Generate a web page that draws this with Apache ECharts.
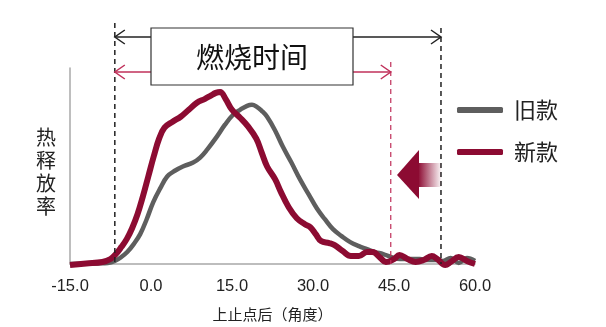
<!DOCTYPE html>
<html>
<head>
<meta charset="utf-8">
<script src="https://cdn.jsdelivr.net/npm/echarts@6/dist/echarts.min.js"></script>
<style>
html,body{margin:0;padding:0;background:#fff;}
#c{width:606px;height:327px;}
</style>
</head>
<body>
<div id="c"></div>
<script>
// ---- data ----
var seriesNames = ['旧款', '新款'];
var oldX = [-15, -12, -10, -8, -6.7, -5.5, -4.4, -3.2, -2, -0.8, 0.4, 1.7, 3, 4.5, 5.9, 7.8, 9.1, 10.4, 12.2, 13.7, 15.2, 16.5, 17.8, 18.7, 19.6, 20.5, 21.5, 23, 24.4, 26, 27.6, 29.2, 30.7, 32.2, 33.7, 35.3, 36.9, 38.5, 40, 41.5, 43, 44.5, 46.1, 48, 49.8, 51.3, 52.8, 54, 55.5, 57, 58.5, 60];
var oldY = [0, 0.3, 0.6, 1, 3, 7, 12, 20, 30, 45, 62, 76, 88, 94, 98, 102, 107, 115, 128, 140, 150, 155, 159, 160, 158, 154, 148, 134, 118, 102, 85, 70, 56, 45, 35, 28, 22, 18, 15, 12, 10, 7, 5, 5, 5, 4, 4, 3, 6, 1, 6, 3];
var newX = [-15, -12, -9, -7.5, -6.5, -5.5, -4.5, -3.5, -2.5, -1.5, -0.5, 0.5, 1.5, 2.5, 4, 5.5, 7, 8.5, 10, 11, 12, 12.8, 13.8, 15, 16.5, 18, 19.5, 20.5, 21.5, 23, 24, 25.5, 27, 28.5, 29.5, 30.5, 31.5, 33, 34, 35.5, 37, 38.5, 40, 41, 42.5, 43.5, 45, 46, 47.5, 49, 50.5, 52, 53, 54.5, 55.5, 57, 58.5, 60];
var newY = [-1, 0.5, 2, 5, 10, 17, 25, 36, 50, 68, 88, 108, 126, 137, 143, 148, 155, 162, 166, 169, 172, 173, 166, 155, 147, 138, 126, 112, 98, 85, 73, 57, 46, 40, 37, 30, 23, 21, 19, 13, 8, 8, 12, 12, 6, 2, 5, 9, 5, 2, 4, 8, 5, -1, 2, 7, 3, 0];
var xTicks = [-15, 0, 15, 30, 45, 60];
// annotation positions (degrees after TDC)
var burnStart = -6.7, burnEndOld = 53.7, burnEndNew = 44.4;

var RED = '#8c0b32', GRAY = '#5e5e5e';
function pairs(xs, ys){ return xs.map(function(x,i){ return [x, ys[i]]; }); }

var chart = echarts.init(document.getElementById('c'), null, {renderer:'canvas'});
var FONT = '"Noto Sans CJK SC", "Liberation Sans", sans-serif';
chart.setOption({
  animation:false,
  backgroundColor:'#fff',
  grid:{left:70, right:131, top:68, bottom:62},
  legend:{
    orient:'vertical', left:452, top:94, itemWidth:46, itemHeight:6, itemGap:20,
    icon:'roundRect',
    textStyle:{fontSize:22, color:'#222', fontFamily:FONT, padding:[0,0,0,6]},
    data: seriesNames
  },
  xAxis:{
    type:'value', min:xTicks[0], max:xTicks[xTicks.length-1], interval:15,
    axisLine:{onZero:false, lineStyle:{color:'#a8a8a8', width:1.5}},
    axisTick:{show:false}, splitLine:{show:false},
    axisLabel:{fontSize:16.5, color:'#222', fontFamily:'"Liberation Sans", Arial, sans-serif', margin:14,
      formatter:function(v){ return v.toFixed(1); }},
    name:'上止点后（角度）', nameLocation:'middle', nameGap:43,
    nameTextStyle:{fontSize:15, color:'#222', fontFamily:FONT}
  },
  yAxis:{
    type:'value', min:0, max:197,
    axisLine:{show:true, onZero:false, lineStyle:{color:'#a8a8a8', width:1.5}},
    axisTick:{show:false}, axisLabel:{show:false}, splitLine:{show:false}
  },
  series:[
    {name:seriesNames[0], type:'line', data:pairs(oldX, oldY), smooth:0.4, showSymbol:false, clip:false,
     lineStyle:{color:GRAY, width:4.5}, itemStyle:{color:GRAY}, z:2},
    {name:seriesNames[1], type:'line', data:pairs(newX, newY), smooth:0.4, showSymbol:false, clip:false,
     lineStyle:{color:RED, width:6}, itemStyle:{color:RED}, z:3}
  ]
});

function px(v){ return chart.convertToPixel({xAxisIndex:0}, v); }
var xs = px(burnStart), xeOld = px(burnEndOld), xeNew = px(burnEndNew);
var base = chart.convertToPixel({yAxisIndex:0}, 0);
var yBlack = 37, yRed = 72;
function arrowHead(x, y, dir, color){
  return {type:'polyline', shape:{points:[[x - dir*10, y-7],[x, y],[x - dir*10, y+7]]},
    style:{stroke:color, lineWidth:1.5, fill:null}, z:10};
}
chart.setOption({graphic:[
  {type:'line', shape:{x1:xs, y1:23, x2:xs, y2:base}, style:{stroke:'#222', lineWidth:1.5, lineDash:[5,4]}, z:5},
  {type:'line', shape:{x1:xeOld, y1:28, x2:xeOld, y2:base}, style:{stroke:'#222', lineWidth:1.5, lineDash:[5,4]}, z:5},
  {type:'line', shape:{x1:xeNew, y1:62, x2:xeNew, y2:base}, style:{stroke:'#c0305a', lineWidth:1.2, lineDash:[5,4]}, z:5},
  {type:'line', shape:{x1:xs, y1:yBlack, x2:xeOld, y2:yBlack}, style:{stroke:'#222', lineWidth:1.3}, z:6},
  arrowHead(xs, yBlack, -1, '#222'), arrowHead(xeOld, yBlack, 1, '#222'),
  {type:'line', shape:{x1:xs, y1:yRed, x2:xeNew, y2:yRed}, style:{stroke:'#c0305a', lineWidth:1.3}, z:6},
  arrowHead(xs, yRed, -1, '#c0305a'), arrowHead(xeNew, yRed, 1, '#c0305a'),
  {type:'rect', shape:{x:151, y:28, width:202, height:57}, style:{fill:'#fff', stroke:'#333', lineWidth:1.2}, z:20},
  {type:'text', x:252, y:57, style:{text:'燃烧时间', fontSize:28, fill:'#111', fontFamily:FONT, align:'center', verticalAlign:'middle'}, z:21},
  {type:'text', x:46, y:172, style:{text:'热\n释\n放\n率', fontSize:20, lineHeight:23, fill:'#222', fontFamily:FONT, align:'center', verticalAlign:'middle'}, z:21},
  {type:'polygon', shape:{points:[[397,175],[419,150],[419,199]]}, style:{fill:RED}, z:8},
  {type:'rect', shape:{x:418, y:163, width:24, height:24},
   style:{fill:new echarts.graphic.LinearGradient(0,0,1,0,[{offset:0,color:RED},{offset:1,color:'rgba(140,11,50,0)'}])}, z:8}
]});
</script>
</body>
</html>
